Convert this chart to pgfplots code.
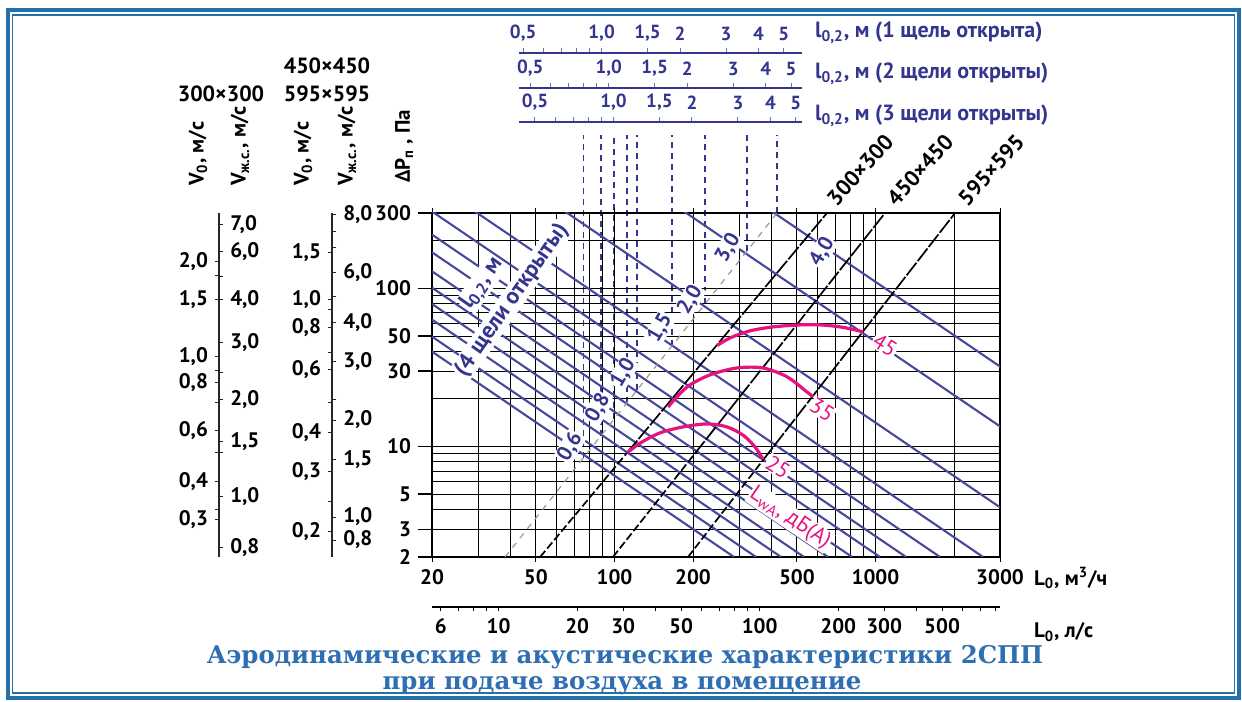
\documentclass[border=0pt]{standalone}
\usepackage{fontspec}
\setmainfont{PT Sans}
\newfontfamily\titlefont{DejaVu Serif}
\usepackage{pgfplots}
\pgfplotsset{compat=1.18}
\definecolor{frameblue}{HTML}{2470A8}
\definecolor{navy}{HTML}{33358F}
\definecolor{lineblue}{HTML}{45489C}
\definecolor{pinkc}{HTML}{E6127E}
\definecolor{titleblue}{HTML}{2F6EB0}
\newcommand{\lab}{\fontsize{10.5}{12}\selectfont\bfseries}
\newcommand{\slab}{\fontsize{9.5}{10}\selectfont\bfseries}
\begin{document}
\begin{tikzpicture}
\begin{scope}[x=0.5pt,y=0.5pt]
\path[use as bounding box] (0,0) rectangle (1242,700);
\draw[frameblue,line width=2pt] (7.5,2) rectangle (1239,690);
\draw[frameblue,line width=0.6pt] (12.5,7) rectangle (1234.5,685);
\end{scope}

% vertical dashed projection lines
\begin{axis}[at={(216pt,71.5pt)},anchor=south west,scale only axis,width=284pt,height=172pt,
    xmode=log,ymode=log,xmin=20,xmax=3000,ymin=2,ymax=300,clip=false,hide axis]
\addplot[navy,dash pattern=on 3pt off 2.5pt,line width=0.55pt] coordinates {(75.8,8.41) (75.8,937)};
\addplot[navy,dash pattern=on 3pt off 2.5pt,line width=0.55pt] coordinates {(88.8,11.7) (88.8,937)};
\addplot[navy,dash pattern=on 3pt off 2.5pt,line width=0.55pt] coordinates {(99.6,14.9) (99.6,937)};
\addplot[navy,dash pattern=on 3pt off 2.5pt,line width=0.55pt] coordinates {(111.7,18.9) (111.7,937)};
\addplot[navy,dash pattern=on 3pt off 2.5pt,line width=0.55pt] coordinates {(122.0,22.7) (122.0,937)};
\addplot[navy,dash pattern=on 3pt off 2.5pt,line width=0.55pt] coordinates {(166.2,43.3) (166.2,937)};
\addplot[navy,dash pattern=on 3pt off 2.5pt,line width=0.55pt] coordinates {(222.3,79.5) (222.3,937)};
\addplot[navy,dash pattern=on 3pt off 2.5pt,line width=0.55pt] coordinates {(322.0,172.3) (322.0,937)};
\addplot[navy,dash pattern=on 3pt off 2.5pt,line width=0.55pt] coordinates {(419.6,299.6) (419.6,937)};
\end{axis}

% main chart
\begin{axis}[at={(216pt,71.5pt)},anchor=south west,scale only axis,width=284pt,height=172pt,
  xmode=log,ymode=log,xmin=20,xmax=3000,ymin=2,ymax=300,
  xtick={20,50,100,200,500,1000,3000},xticklabels={20,50,100,200,500,1000,3000},
  minor xtick={30,40,60,70,80,90,300,400,600,700,800,900,2000},
  ytick={2,3,5,10,30,50,100,300},yticklabels={},
  minor ytick={4,6,7,8,9,20,40,60,70,80,90,200},
  grid=both,major grid style={black,line width=0.45pt},minor grid style={black,line width=0.45pt},
  axis line style={black,line width=1.2pt},
  tick align=outside,major tick length=2.5pt,minor tick length=0pt,
  ytick style={draw=none},xtick style={black,line width=0.5pt},
  xticklabel style={font=\lab,text=black}]
% blue l0.2 lines
\addplot[lineblue,line width=1.05pt] coordinates {(20,39.85) (287.2,2)};
\addplot[lineblue,line width=1.05pt] coordinates {(20,49.56) (348.6,2)};
\addplot[lineblue,line width=1.05pt] coordinates {(20,63.48) (434.8,2)};
\addplot[lineblue,line width=1.05pt] coordinates {(20,79.72) (532.6,2)};
\addplot[lineblue,line width=1.05pt] coordinates {(20,101.1) (658.2,2)};
\addplot[lineblue,line width=1.05pt] coordinates {(20,128.3) (813.6,2)};
\addplot[lineblue,line width=1.05pt] coordinates {(20,169.3) (1041,2)};
\addplot[lineblue,line width=1.05pt] coordinates {(20,219.0) (1309.6,2)};
\addplot[lineblue,line width=1.05pt] coordinates {(20,306.8) (1767.6,2)};
\addplot[lineblue,line width=1.05pt] coordinates {(20,469.6) (2584,2)};
\addplot[lineblue,line width=1.05pt] coordinates {(20,1145.6) (5714,2)};
\addplot[lineblue,line width=1.05pt] coordinates {(20,3724) (16326,2)};
\addplot[lineblue,line width=1.05pt] coordinates {(20,8905) (35492,2)};
% 4-slot reference line
\addplot[black!40,dash pattern=on 3pt off 3pt,line width=0.6pt] coordinates {(38.1,2) (419.6,300)};
% size lines
\addplot[black,dash pattern=on 4pt off 1.5pt,line width=0.85pt] coordinates {(51.9,2) (111.7,9.12)};
\addplot[black,dash pattern=on 8pt off 1pt,line width=0.85pt] coordinates {(111.7,9.12) (652,300)};
\addplot[black,dash pattern=on 4pt off 1.5pt,line width=0.85pt] coordinates {(98.7,2) (203,9.0)};
\addplot[black,dash pattern=on 8pt off 1pt,line width=0.85pt] coordinates {(203,9.0) (1088,300)};
\addplot[black,dash pattern=on 4pt off 1.5pt,line width=0.85pt] coordinates {(191.4,2) (370.8,8.2)};
\addplot[black,dash pattern=on 8pt off 1pt,line width=0.85pt] coordinates {(370.8,8.2) (2018,300)};
% noise curves
\addplot[pinkc,line width=1.6pt,smooth] coordinates {(111.7,9.1) (125.3,10.5) (149.5,12.2) (183.1,13.3) (226.3,13.9) (270,13.3) (311,11.8) (345.7,9.93) (370.8,8.3)};
\addplot[pinkc,line width=1.6pt,smooth] coordinates {(160.4,17.8) (189.8,23.8) (232.5,28.4) (295,31.4) (370.8,31.4) (458.2,27.6) (547,22.1) (577,20.6)};
\addplot[pinkc,line width=1.6pt,smooth] coordinates {(247.2,43.5) (277.2,48.6) (330.5,53.9) (405.2,57.1) (514,58.8) (613.5,58.8) (731.5,57.1) (835,54.7) (896,53.0)};
% labels
\node[rotate=-32,fill=white,inner sep=0.5pt,text=pinkc,font=\fontsize{11}{12}\selectfont] at (axis cs:423.4,7.42) {25};
\node[rotate=-32,fill=white,inner sep=0.5pt,text=pinkc,font=\fontsize{11}{12}\selectfont] at (axis cs:624,17.04) {35};
\node[rotate=-32,fill=white,inner sep=0.5pt,text=pinkc,font=\fontsize{11}{12}\selectfont] at (axis cs:1088,43.9) {45};
\node[rotate=-34,fill=white,inner sep=0.5pt,text=pinkc,font=\fontsize{11}{12}\selectfont] at (axis cs:470.6,3.53) {L\textsubscript{wA}, дБ(А)};
\node[rotate=60,fill=white,inner sep=0.5pt,text=navy,font=\lab] at (axis cs:67.6,9.94) {0,6};
\node[rotate=60,fill=white,inner sep=0.5pt,text=navy,font=\lab] at (axis cs:86.5,17.5) {0,8};
\node[rotate=60,fill=white,inner sep=0.5pt,text=navy,font=\lab] at (axis cs:107.9,29.2) {1,0};
\node[rotate=60,fill=white,inner sep=0.5pt,text=navy,font=\lab] at (axis cs:149.4,56.3) {1,5};
\node[rotate=60,fill=white,inner sep=0.5pt,text=navy,font=\lab] at (axis cs:194.8,84.7) {2,0};
\node[rotate=60,fill=white,inner sep=0.5pt,text=navy,font=\lab] at (axis cs:272.4,180.6) {3,0};
\node[rotate=60,fill=white,inner sep=0.5pt,text=navy,font=\lab] at (axis cs:624.1,170.4) {4,0};
\node[rotate=55,fill=white,inner sep=0.5pt,text=navy,font=\fontsize{11.5}{12}\selectfont\bfseries] at (axis cs:31.1,107.7) {l\textsubscript{0,2}, м};
\node[rotate=55,fill=white,inner sep=0.5pt,text=navy,font=\fontsize{11.5}{12}\selectfont\bfseries] at (axis cs:40.5,84.7) {(4 щели открыты)};
\end{axis}

% y tick labels of main chart
\begin{axis}[at={(216pt,71.5pt)},anchor=south west,scale only axis,width=284pt,height=172pt,
  ymode=log,ymin=2,ymax=300,xmin=0,xmax=1,hide x axis,axis y line*=left,axis line style={draw=none},
  ytick={2,3,5,10,30,50,100,300},yticklabels={2,3,5,10,30,50,100,300},
  tick align=outside,major tick length=7pt,tick style={black,line width=0.6pt},
  yticklabel style={font=\lab,text=black}]
\end{axis}

% left velocity scales
\begin{axis}[at={(109.5pt,71.5pt)},anchor=south west,scale only axis,width=0.1pt,height=172pt,
  ymode=log,ymin=2,ymax=300,xmin=0,xmax=1,hide x axis,tick align=outside,
  major tick length=2pt,minor tick length=2pt,
  axis line style={black!85,line width=0.6pt},tick style={black!85,line width=0.5pt},
  yticklabel style={font=\lab,text=black},axis y line*=left,
  ytick={147.3,84.7,36.9,25.3,12.7,5.97,3.43},yticklabels={2{,}0,1{,}5,1{,}0,0{,}8,0{,}6,0{,}4,0{,}3},
  minor ytick={120.1,30.1,18.9,9.10,3.97}]
\end{axis}
\begin{axis}[at={(109.5pt,71.5pt)},anchor=south west,scale only axis,width=0.1pt,height=172pt,
  ymode=log,ymin=2,ymax=300,xmin=0,xmax=1,hide x axis,tick align=outside,
  major tick length=2pt,minor tick length=2pt,
  axis line style={black!85,line width=0.6pt},tick style={black!85,line width=0.5pt},
  yticklabel style={font=\lab,text=black},axis y line*=right,
  ytick={252.6,170.4,84.7,45.2,19.7,10.7,4.80,2.31},yticklabels={7{,}0,6{,}0,4{,}0,3{,}0,2{,}0,1{,}5,1{,}0,0{,}8},
  minor ytick={118.4,29.2,9.10}]
\end{axis}
\begin{axis}[at={(166pt,71.5pt)},anchor=south west,scale only axis,width=0.1pt,height=172pt,
  ymode=log,ymin=2,ymax=300,xmin=0,xmax=1,hide x axis,tick align=outside,
  major tick length=2pt,minor tick length=2pt,
  axis line style={black!85,line width=0.6pt},tick style={black!85,line width=0.5pt},
  yticklabel style={font=\lab,text=black},axis y line*=left,
  ytick={168.0,84.7,56.3,30.5,12.2,6.90,2.88},yticklabels={1{,}5,1{,}0,0{,}8,0{,}6,0{,}4,0{,}3,0{,}2},
  minor ytick={73.2,39.1,18.9,4.5}]
\end{axis}
\begin{axis}[at={(166pt,71.5pt)},anchor=south west,scale only axis,width=0.1pt,height=172pt,
  ymode=log,ymin=2,ymax=300,xmin=0,xmax=1,hide x axis,tick align=outside,
  major tick length=2pt,minor tick length=2pt,
  axis line style={black!85,line width=0.6pt},tick style={black!85,line width=0.5pt},
  yticklabel style={font=\lab,text=black},axis y line*=right,
  ytick={292.2,125.4,60.5,34.3,14.7,8.22,3.58,2.56},yticklabels={8{,}0,6{,}0,4{,}0,3{,}0,2{,}0,1{,}5,1{,}0,0{,}8},
  minor ytick={228.0,180.6,88.4,19.7}]
\end{axis}

% top l0.2 scales
\begin{axis}[at={(259.5pt,323.5pt)},anchor=north west,scale only axis,width=141.5pt,height=1pt,xmode=log,
    xmin=0.482,xmax=5.87,ymin=0,ymax=1,
    axis x line*=top,hide y axis,tick align=outside,major tick length=2.5pt,minor tick length=2.5pt,
    axis line style={navy,line width=0.6pt},tick style={navy!70,line width=0.5pt},
    xtick={0.5,1,1.5,2,3,4,5},xticklabels={0{,}5,1{,}0,1{,}5,2,3,4,5},
    minor xtick={0.6,0.7,0.8,0.9},xticklabel style={font=\slab,text=navy}]
\end{axis}
\begin{axis}[at={(259.5pt,306pt)},anchor=north west,scale only axis,width=141.5pt,height=1pt,xmode=log,
    xmin=0.453,xmax=5.51,ymin=0,ymax=1,
    axis x line*=top,hide y axis,tick align=outside,major tick length=2.5pt,minor tick length=2.5pt,
    axis line style={navy,line width=0.6pt},tick style={navy!70,line width=0.5pt},
    xtick={0.5,1,1.5,2,3,4,5},xticklabels={0{,}5,1{,}0,1{,}5,2,3,4,5},
    minor xtick={0.6,0.7,0.8,0.9},xticklabel style={font=\slab,text=navy}]
\end{axis}
\begin{axis}[at={(259.5pt,289pt)},anchor=north west,scale only axis,width=141.5pt,height=1pt,xmode=log,
    xmin=0.4345,xmax=5.28,ymin=0,ymax=1,
    axis x line*=top,hide y axis,tick align=outside,major tick length=2.5pt,minor tick length=2.5pt,
    axis line style={navy,line width=0.6pt},tick style={navy!70,line width=0.5pt},
    xtick={0.5,1,1.5,2,3,4,5},xticklabels={0{,}5,1{,}0,1{,}5,2,3,4,5},
    minor xtick={0.6,0.7,0.8,0.9},xticklabel style={font=\slab,text=navy}]
\end{axis}

% bottom l/s scale
\begin{axis}[at={(216pt,46.5pt)},anchor=south west,scale only axis,width=284pt,height=1pt,xmode=log,
  xmin=5.5556,xmax=833.33,ymin=0,ymax=1,axis x line*=bottom,hide y axis,tick align=outside,
  major tick length=2pt,minor tick length=2pt,axis line style={black,line width=0.6pt},
  tick style={black,line width=0.5pt},
  xtick={6,10,20,30,50,100,200,300,500},xticklabels={6,10,20,30,50,100,200,300,500},
  minor xtick={7,8,9,40,60,70,80,90,400,600,700,800},
  xticklabel style={font=\lab,text=black}]
\end{axis}

\begin{scope}[x=0.5pt,y=0.5pt]
\node[anchor=west,text=navy,font=\fontsize{11}{12}\selectfont\bfseries] at (808,667) {l\textsubscript{0,2}, м (1 щель открыта)};
\node[anchor=west,text=navy,font=\fontsize{11}{12}\selectfont\bfseries] at (808,626) {l\textsubscript{0,2}, м (2 щели открыты)};
\node[anchor=west,text=navy,font=\fontsize{11}{12}\selectfont\bfseries] at (808,584) {l\textsubscript{0,2}, м (3 щели открыты)};
\node[anchor=west,font=\lab] at (1027,122) {L\textsubscript{0}, м\textsuperscript{3}/ч};
\node[anchor=west,font=\lab] at (1027,68) {L\textsubscript{0}, л/с};
\node[font=\fontsize{11}{13}\selectfont\bfseries] at (221,606) {300×300};
\node[font=\fontsize{11}{13}\selectfont\bfseries] at (327,634) {450×450};
\node[font=\fontsize{11}{13}\selectfont\bfseries] at (327,606) {595×595};
\node[rotate=90,anchor=west,font=\lab] at (198,507) {V\textsubscript{0}, м/с};
\node[rotate=90,anchor=west,font=\lab] at (240,507) {V\textsubscript{ж.с.}, м/с};
\node[rotate=90,anchor=west,font=\lab] at (303,507) {V\textsubscript{0}, м/с};
\node[rotate=90,anchor=west,font=\lab] at (347,507) {V\textsubscript{ж.с.}, м/с};
\node[rotate=90,anchor=west,font=\lab] at (404,510) {ΔP\textsubscript{п} , Па};
\node[rotate=48,font=\fontsize{11}{13}\selectfont\bfseries] at (860,530) {300×300};
\node[rotate=48,font=\fontsize{11}{13}\selectfont\bfseries] at (920,530) {450×450};
\node[rotate=48,font=\fontsize{11}{13}\selectfont\bfseries] at (991,530) {595×595};
\node[text=titleblue,font=\titlefont\fontsize{12.2}{15}\selectfont\bfseries] at (625,43) {Аэродинамические и акустические характеристики 2СПП};
\node[text=titleblue,font=\titlefont\fontsize{12.2}{15}\selectfont\bfseries] at (622,14) {при подаче воздуха в помещение};
\end{scope}
\end{tikzpicture}
\end{document}
